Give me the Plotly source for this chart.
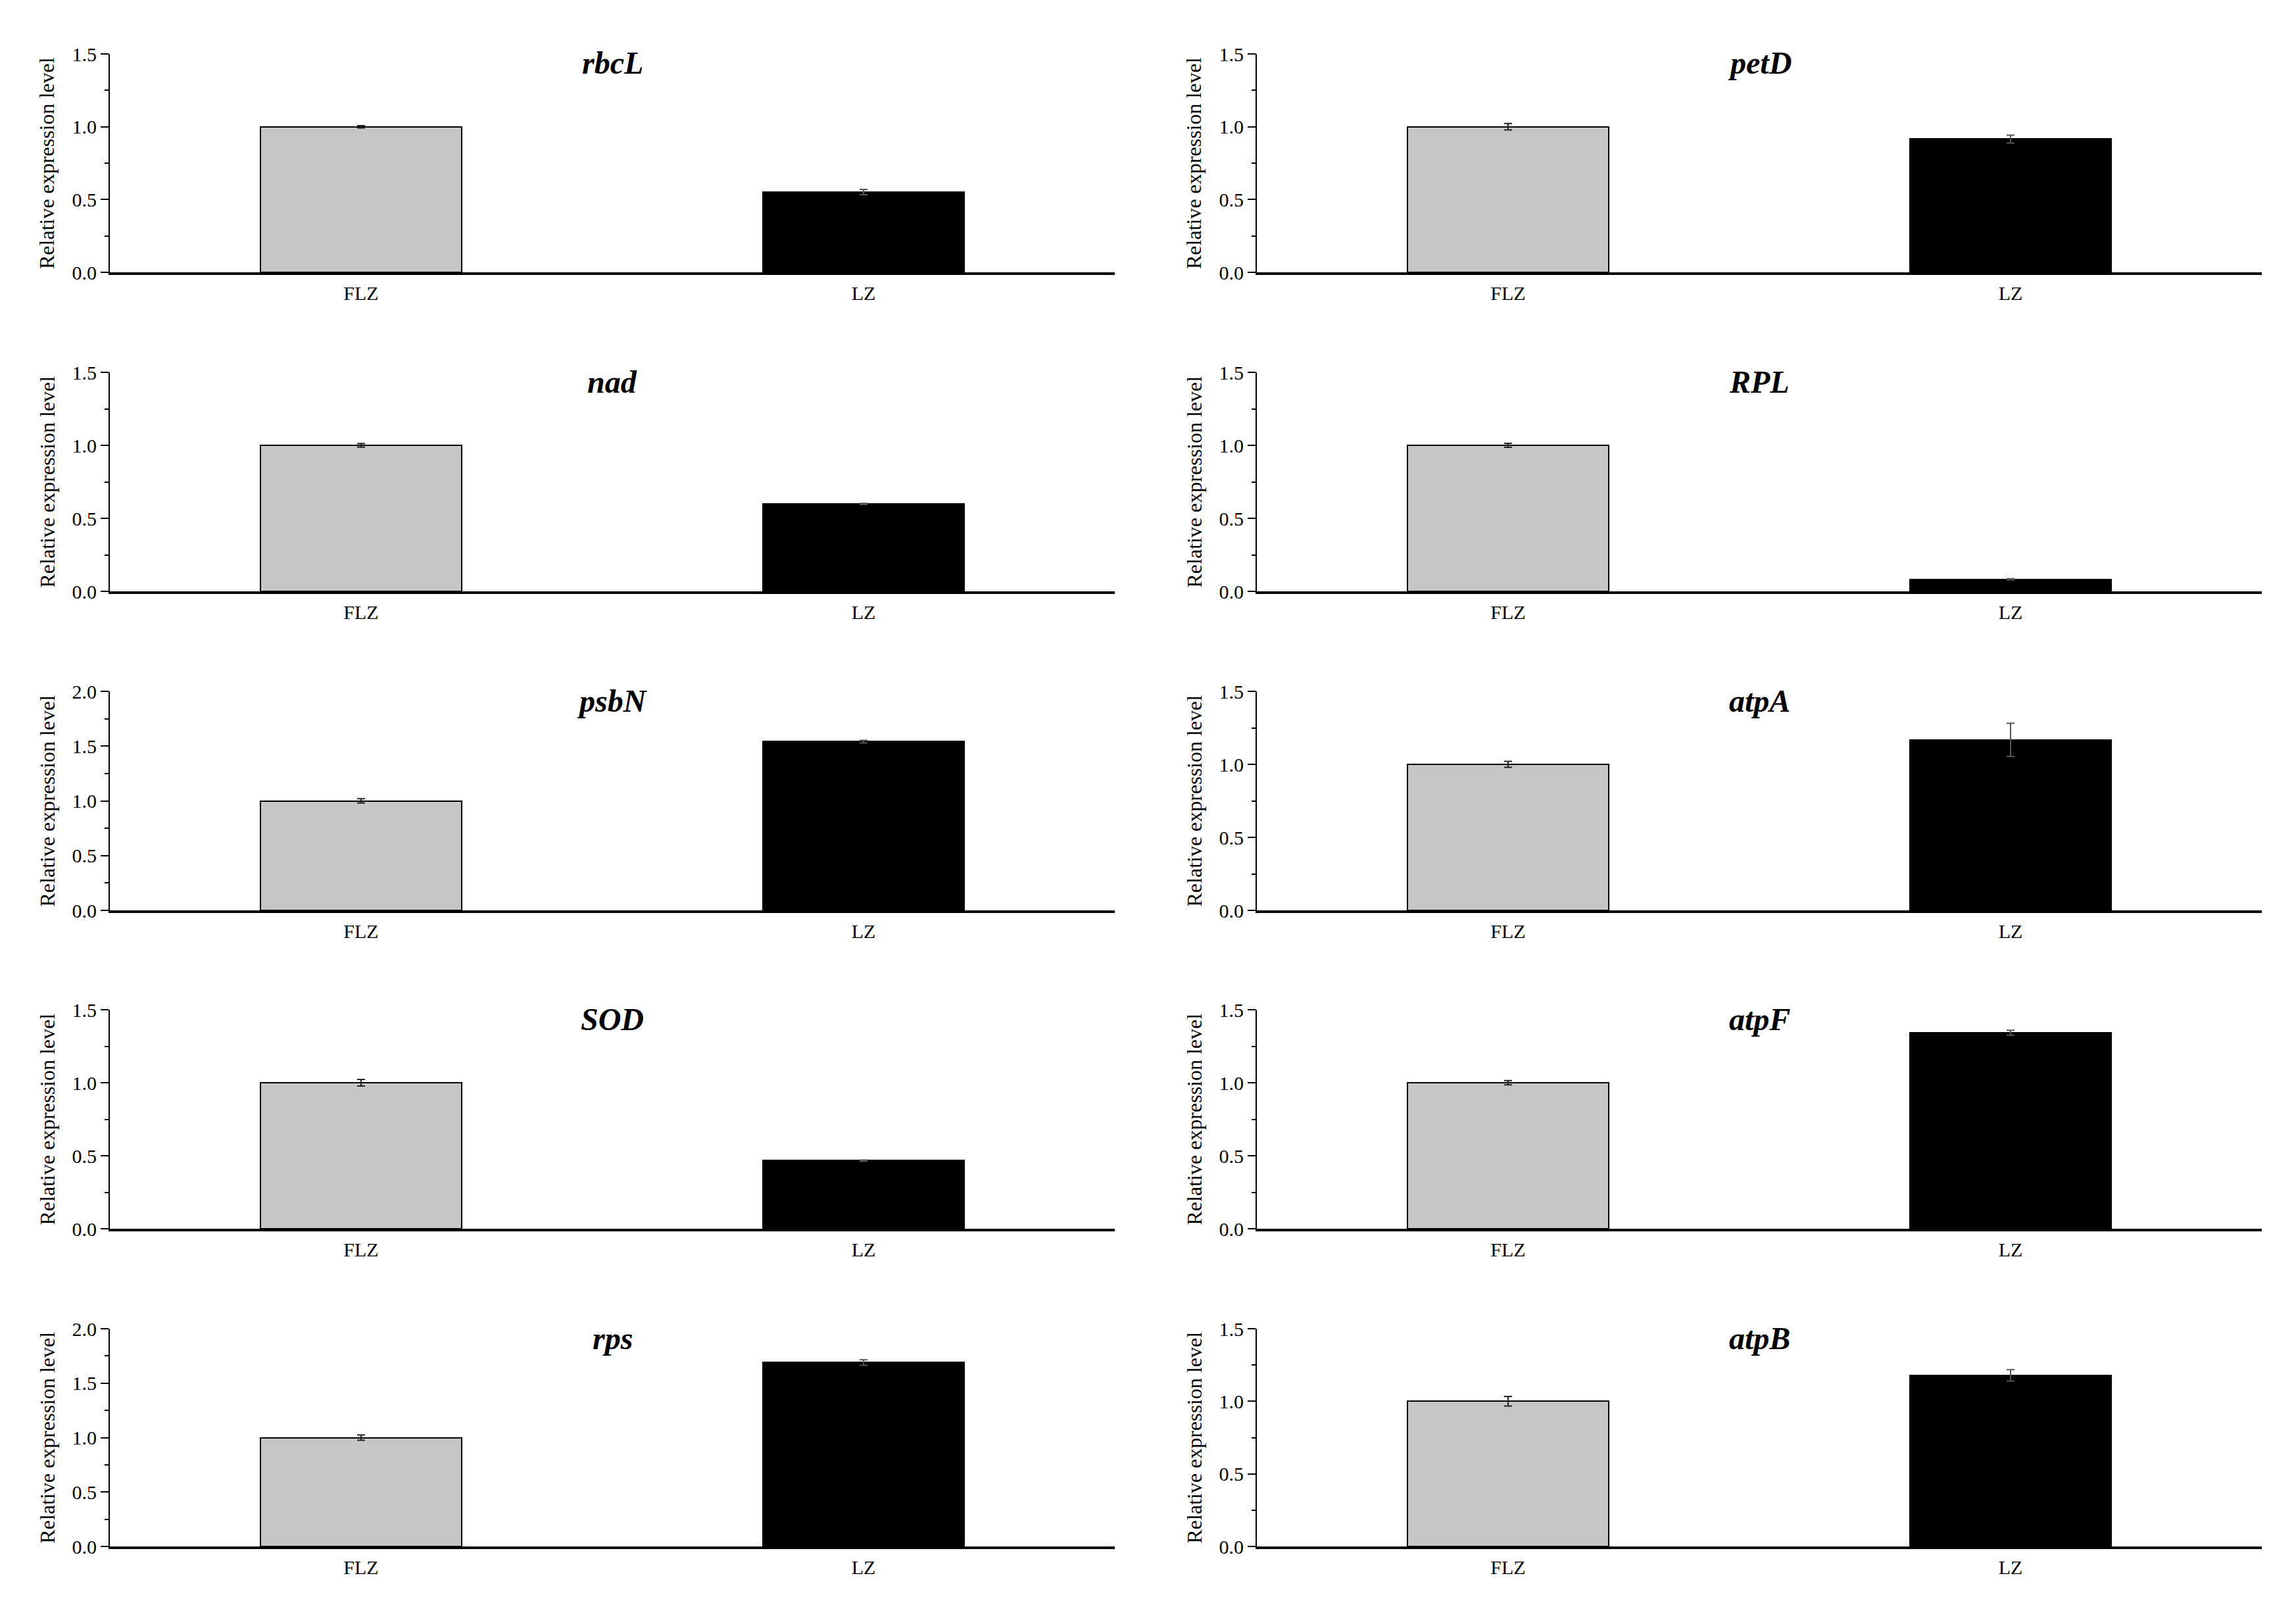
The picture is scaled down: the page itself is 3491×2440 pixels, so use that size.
import plotly.graph_objects as go

# ---------------- data ----------------
genes = ["rbcL", "petD", "nad", "RPL", "psbN", "atpA", "SOD", "atpF", "rps", "atpB"]
groups = ["FLZ", "LZ"]
flz_vals = [1.0, 1.0, 1.0, 1.0, 1.0, 1.0, 1.0, 1.0, 1.0, 1.0]
lz_vals = [0.551, 0.915, 0.599, 0.083, 1.541, 1.168, 0.467, 1.342, 1.69, 1.179]
flz_err = [0.008, 0.022, 0.012, 0.013, 0.02, 0.02, 0.022, 0.015, 0.024, 0.033]
lz_err = [0.018, 0.027, 0.004, 0.004, 0.012, 0.114, 0.004, 0.017, 0.025, 0.039]
y_max = [1.5, 1.5, 1.5, 1.5, 2.0, 1.5, 1.5, 1.5, 2.0, 1.5]
y_label = "Relative expression level"

# ---------------- layout geometry (pixels in the page) ----------------
PAGE_W, PAGE_H = 3491, 2440
OFF = 8                      # default body margin of the html page
W, H = PAGE_W - 2 * OFF, PAGE_H - 2 * OFF
col_x = [(167, 1695), (1911, 3439)]
row_y = [(82, 414), (566, 899), (1051, 1384), (1535, 1868), (2020, 2351)]


def px(v):
    return (v - OFF) / W


def py(v):
    return 1 - (v - OFF) / H


FONT = "Liberation Serif, Times New Roman, serif"
GRAY = "#c6c6c6"

fig = go.Figure()
annotations = []
layout_axes = {}

for i, g in enumerate(genes):
    r, c = divmod(i, 2)
    k = i + 1
    xa = "x" if k == 1 else f"x{k}"
    ya = "y" if k == 1 else f"y{k}"
    x0, x1 = col_x[c]
    yt, yb = row_y[r]

    fig.add_trace(go.Bar(
        x=[groups[0]], y=[flz_vals[i]], width=0.4,
        marker=dict(color=GRAY, line=dict(color="black", width=2)),
        error_y=dict(type="data", array=[flz_err[i]], visible=True,
                     color="#222222", thickness=2, width=6),
        xaxis=xa, yaxis=ya, showlegend=False))
    fig.add_trace(go.Bar(
        x=[groups[1]], y=[lz_vals[i]], width=0.4,
        marker=dict(color="black", line=dict(color="black", width=2)),
        error_y=dict(type="data", array=[lz_err[i]], visible=True,
                     color="#555555", thickness=2, width=6),
        xaxis=xa, yaxis=ya, showlegend=False))

    xkey = "xaxis" if k == 1 else f"xaxis{k}"
    ykey = "yaxis" if k == 1 else f"yaxis{k}"
    layout_axes[xkey] = dict(
        domain=[px(x0), px(x1)], anchor=ya, type="category",
        categoryorder="array", categoryarray=groups, range=[-0.5, 1.5],
        showline=True, linecolor="black", linewidth=4, automargin=False,
        ticks="", showgrid=False, zeroline=False,
        tickfont=dict(family=FONT, size=30, color="black"), ticklabelstandoff=2)
    layout_axes[ykey] = dict(
        domain=[py(yb), py(yt)], anchor=xa, range=[0, y_max[i]], automargin=False,
        tickmode="linear", tick0=0, dtick=0.5, tickformat=".1f",
        showline=True, linecolor="black", linewidth=2,
        ticks="outside", ticklen=12, tickwidth=2, tickcolor="black",
        minor=dict(ticks="outside", ticklen=6, tickwidth=2, tickcolor="black",
                   dtick=0.25, tick0=0),
        showgrid=False, zeroline=False,
        tickfont=dict(family=FONT, size=30, color="black"))

    # gene title (bold italic) inside the panel near top
    annotations.append(dict(
        text=f"<b><i>{g}</i></b>", xref="paper", yref="paper",
        x=px((x0 + x1) / 2), y=py(yt + 14),
        xanchor="center", yanchor="middle", showarrow=False,
        font=dict(family=FONT, size=48, color="black")))
    # y-axis title
    annotations.append(dict(
        text=y_label, xref="paper", yref="paper",
        x=px(x0 - 96), y=py((yt + yb) / 2),
        xanchor="center", yanchor="middle", textangle=-90, showarrow=False,
        font=dict(family=FONT, size=32, color="black")))

fig.update_layout(
    width=W, height=H,
    margin=dict(l=0, r=0, t=0, b=0, autoexpand=False),
    paper_bgcolor="white", plot_bgcolor="white",
    barmode="overlay", bargap=0,
    annotations=annotations,
    **layout_axes)

fig.write_html("out.html")
